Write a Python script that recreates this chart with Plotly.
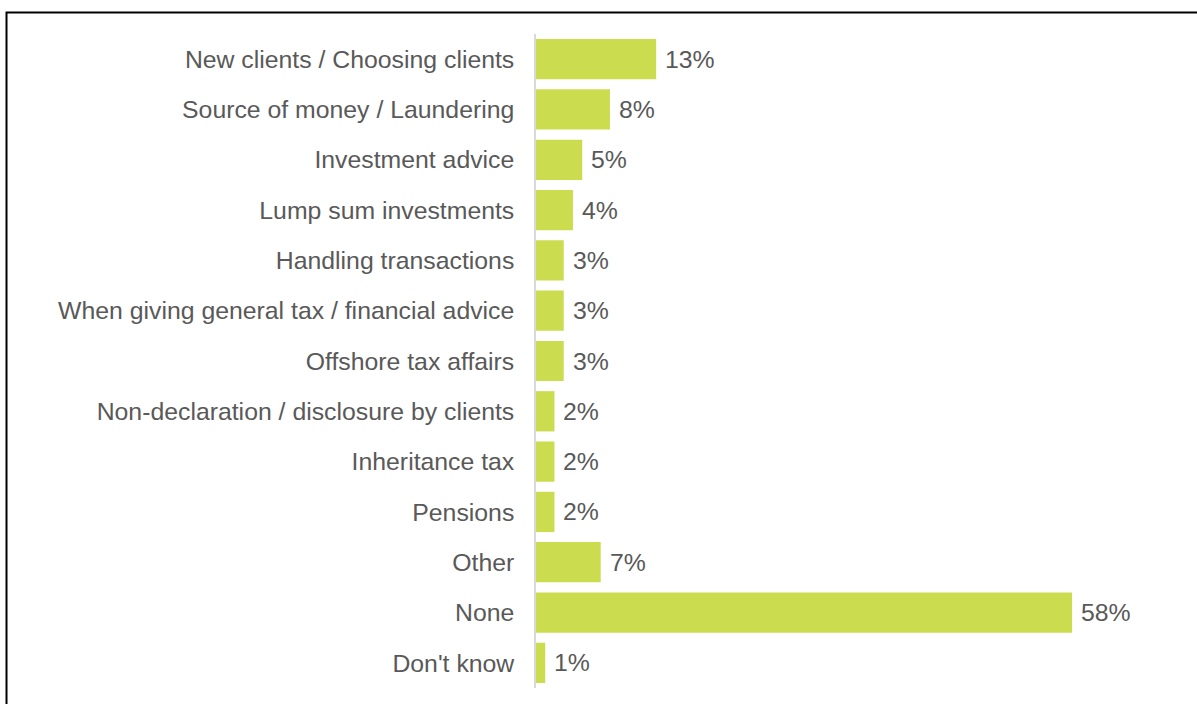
import plotly.graph_objects as go

categories = [
    "New clients / Choosing clients",
    "Source of money / Laundering",
    "Investment advice",
    "Lump sum investments",
    "Handling transactions",
    "When giving general tax / financial advice",
    "Offshore tax affairs",
    "Non-declaration / disclosure by clients",
    "Inheritance tax",
    "Pensions",
    "Other",
    "None",
    "Don't know",
]
values = [13, 8, 5, 4, 3, 3, 3, 2, 2, 2, 7, 58, 1]
value_labels = [f"{v}%" for v in values]

BAR_COLOR = "#CBDC4E"
TEXT_COLOR = "#595959"
FONT = "Liberation Sans, Arial, sans-serif"
FS = 24.8

W, H = 1197, 704
ML, MR, MT, MB = 536, 14, 34, 16

fig = go.Figure(
    go.Bar(
        x=values,
        y=categories,
        orientation="h",
        marker=dict(color=BAR_COLOR, line=dict(width=0)),
        hoverinfo="skip",
    )
)

for c, v, t in zip(categories, values, value_labels):
    fig.add_annotation(
        x=v, y=c, text=t, xref="x", yref="y",
        xanchor="left", yanchor="middle", xshift=7,
        showarrow=False,
        font=dict(family=FONT, size=FS, color=TEXT_COLOR),
    )

pw = W - ML - MR
ph = H - MT - MB
left_px, top_px = 6.5, 12.5
fig.add_shape(
    type="rect", xref="paper", yref="paper",
    x0=(left_px - ML) / pw, x1=1.2,
    y0=-0.2, y1=(H - MB - top_px) / ph,
    line=dict(color="black", width=2),
    fillcolor="rgba(0,0,0,0)",
    layer="above",
)

fig.update_layout(
    width=W, height=H,
    margin=dict(l=ML, r=MR, t=MT, b=MB, autoexpand=False),
    paper_bgcolor="white", plot_bgcolor="white",
    bargap=0.2,
    showlegend=False,
    font=dict(family=FONT, size=FS, color=TEXT_COLOR),
    xaxis=dict(
        range=[0, 70], visible=False, showgrid=False, zeroline=False,
        fixedrange=True,
    ),
    yaxis=dict(
        autorange="reversed", showgrid=False, zeroline=False,
        showline=True, linecolor="#D9D9D9", linewidth=1.5,
        ticks="", ticklabelstandoff=15,
        tickfont=dict(family=FONT, size=FS, color=TEXT_COLOR),
        fixedrange=True,
    ),
)

fig.write_html(
    "out.html",
    config={"displayModeBar": False},
    post_script="document.body.style.margin='0px';document.body.style.overflow='hidden';",
)
